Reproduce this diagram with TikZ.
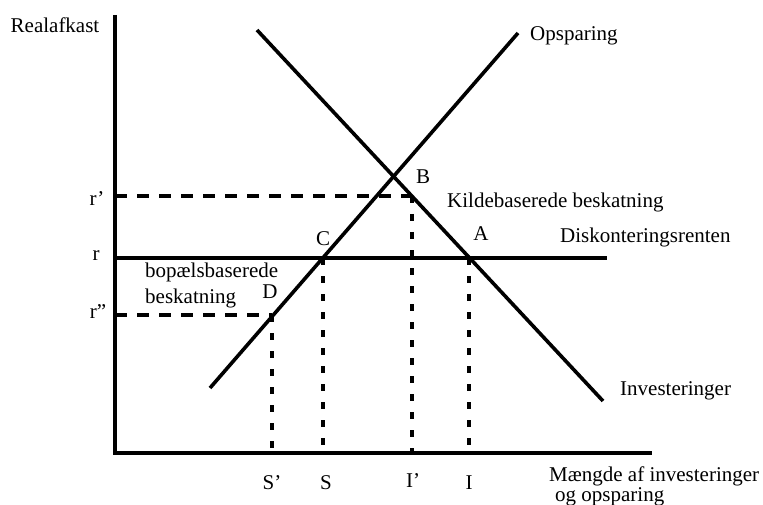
\documentclass[tikz,border=0pt]{standalone}
\usepackage{fontspec}
\setmainfont{Liberation Serif}

\begin{document}
\begin{tikzpicture}[x=1pt,y=-1pt,
  lbl/.style={inner sep=0pt,font=\fontsize{21}{25}\selectfont},
  axis/.style={line width=3.8pt},
  curve/.style={line width=3.6pt},
  hdash/.style={line width=3.4pt,dash pattern=on 12pt off 10pt},
  vdash/.style={line width=3.4pt,dash pattern=on 7pt off 11pt}]
\useasboundingbox (0,0) rectangle (763,505);

\coordinate (ytop) at (115,15);
\coordinate (o) at (115,453);
\coordinate (xend) at (652,453);
\coordinate (r) at (115,258);
\coordinate (rend) at (607,258);
\coordinate (rp) at (115,196);
\coordinate (rpp) at (115,315);
\coordinate (s1) at (210,388);
\coordinate (s2) at (518,33);
\coordinate (i1) at (257,30);
\coordinate (i2) at (603,401);
\coordinate (A) at (469,258);
\coordinate (C) at (323,258);
\coordinate (D) at (272,315);
\coordinate (Bp) at (412,196);
\coordinate (xA) at (469,453);
\coordinate (xC) at (323,453);
\coordinate (xD) at (272,453);
\coordinate (xB) at (412,453);

\node[lbl] (yl) at (55,25) {Realafkast};
\node[lbl] (lrp) at (97,199) {r’};
\node[lbl] (lr) at (96,256) {r};
\node[lbl] (lrpp) at (98,312) {r”};
\node[lbl] (lB) at (423,177) {B};
\node[lbl] (lC) at (323,239) {C};
\node[lbl] (lA) at (481,234) {A};
\node[lbl] (lD) at (270,292) {D};
\node[lbl,anchor=west] (kilde) at (447,202) {Kildebaserede beskatning};
\node[lbl,anchor=west] (disk) at (560,237) {Diskonteringsrenten};
\node[lbl,anchor=west] (bop1) at (145,272) {bopælsbaserede};
\node[lbl,anchor=west] (bop2) at (145,298) {beskatning};
\node[lbl,anchor=west] (ops) at (530,36) {Opsparing};
\node[lbl,anchor=west] (inv) at (620,391) {Investeringer};
\node[lbl] (lSp) at (272,483) {S’};
\node[lbl] (lS) at (326,483) {S};
\node[lbl] (lIp) at (413,481) {I’};
\node[lbl] (lI) at (469,483) {I};
\node[lbl,anchor=west] (xl1) at (549,476) {Mængde af investeringer};
\node[lbl,anchor=west] (xl2) at (555,497) {og opsparing};

\draw[axis] (ytop)--(o)--(xend);
\draw[line width=3.2pt] (r)--(rend);
\draw[curve] (s1)--(s2);
\draw[curve] (i1)--(i2);
\draw[hdash] (rp)--(Bp);
\draw[hdash] (rpp)--(D);
\draw[vdash] (Bp)--(xB);
\draw[vdash] (D)--(xD);
\draw[vdash] (C)--(xC);
\draw[vdash] (A)--(xA);
\end{tikzpicture}
\end{document}
